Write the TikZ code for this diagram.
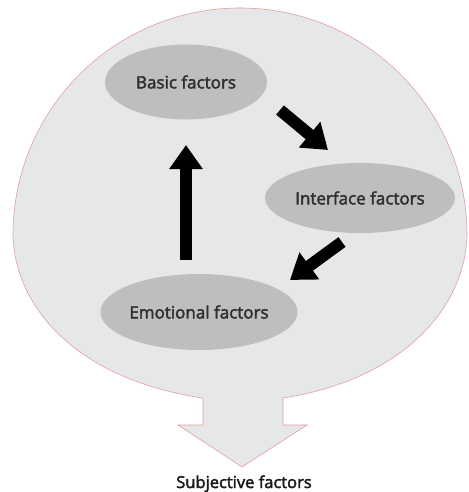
\documentclass[tikz,border=0pt]{standalone}
\usepackage{fontspec}
\setmainfont{Open Sans}
\newfontfamily\labfont[FakeBold=2.5]{Open Sans}
\usetikzlibrary{shapes.geometric,arrows.meta}
\definecolor{bgfill}{HTML}{E6E7E8}
\definecolor{outline}{HTML}{E2A0A0}
\definecolor{ellfill}{HTML}{BEBEBE}
\definecolor{txt}{HTML}{303030}
\tikzset{
  factor/.style={ellipse, fill=ellfill, draw=none, inner sep=0pt, text=txt, font=\labfont\fontsize{17}{20}\selectfont},
  bigarrow/.style={line width=12pt, -{Triangle[width=32pt,length=24pt]}},
}
\begin{document}
\begin{tikzpicture}[x=1pt,y=-1pt]
\useasboundingbox (0,0) rectangle (468,492);
\filldraw[fill=bgfill, draw=outline, line width=0.6pt]
  (13,235) arc[start angle=180, end angle=360, radius=227]
  .. controls (465,310) and (400,380) .. (283,398)
  -- (283,425) -- (307,425) -- (242,467) -- (178,425) -- (203,425) -- (203,398)
  .. controls (80,380) and (15,310) .. cycle;
\node[factor, minimum width=162pt, minimum height=75pt] (basic) at (186,82) {Basic factors};
\node[factor, minimum width=190pt, minimum height=70pt] (iface) at (360,198) {Interface factors};
\node[factor, minimum width=188pt, minimum height=76pt] (emo) at (199,312) {Emotional factors};
\coordinate (upS) at (186,260);
\coordinate (upE) at (186,145);
\coordinate (d1S) at (280,110);
\coordinate (d1E) at (328,150);
\coordinate (d2S) at (342,242);
\coordinate (d2E) at (290,280);
\draw[bigarrow] (upS) -- (upE);
\draw[bigarrow] (d1S) -- (d1E);
\draw[bigarrow] (d2S) -- (d2E);
\node[font=\labfont\fontsize{16.5}{19}\selectfont, text=black!90, inner sep=0pt, anchor=base] (subj) at (244,488) {Subjective factors};
\end{tikzpicture}
\end{document}
